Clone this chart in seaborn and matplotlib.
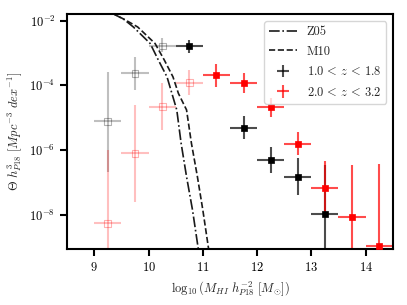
import numpy as np
import pandas as pd
import matplotlib
matplotlib.use("Agg")
import matplotlib.pyplot as plt
import seaborn as sns

sns.set_theme(style="ticks")
plt.rcParams["font.family"] = ["cmr10", "DejaVu Serif"]
plt.rcParams["mathtext.fontset"] = "cm"
plt.rcParams["axes.unicode_minus"] = False
plt.rcParams["axes.formatter.use_mathtext"] = True

# Schechter curves (log10 M, log10 Theta)
z05_x = [9.0, 9.36, 9.55, 9.72, 10.03, 10.18, 10.34, 10.43, 10.52, 10.60, 10.70, 10.81, 10.91, 10.96]
z05_y = [-1.62, -1.80, -1.97, -2.20, -2.71, -3.22, -3.74, -4.25, -4.76, -5.79, -6.82, -7.85, -8.98, -9.5]
m10_x = [9.0, 9.36, 9.57, 9.80, 10.12, 10.29, 10.45, 10.55, 10.70, 10.79, 10.90, 11.00, 11.10, 11.15]
m10_y = [-1.62, -1.80, -1.98, -2.20, -2.71, -3.22, -3.74, -4.25, -4.76, -5.79, -6.82, -7.85, -8.98, -9.5]

# 1.0 < z < 1.8 (log10 values)
lo_x = [9.25, 9.75, 10.25, 10.75, 11.75, 12.25, 12.75, 13.25]
lo_y = [-5.11, -3.63, -2.79, -2.79, -5.31, -6.31, -6.82, -7.97]
lo_up = [-3.58, -3.12, -2.55, -2.60, -4.95, -5.91, -6.25, -6.45]
lo_dn = [-6.67, -4.15, -2.97, -3.00, -5.67, -6.70, -7.38, -12.0]
lo_ok = [False, False, False, True, True, True, True, True]

# 2.0 < z < 3.2
hi_x = [9.25, 9.75, 10.25, 10.75, 11.25, 11.75, 12.25, 12.75, 13.25, 13.75, 14.25]
hi_y = [-8.26, -6.10, -4.66, -3.92, -3.69, -3.94, -4.68, -5.82, -7.16, -8.08, -8.95]
hi_up = [-6.00, -4.61, -3.94, -3.53, -3.33, -3.63, -4.40, -5.43, -6.33, -6.46, -6.43]
hi_dn = [-12.0, -7.59, -5.38, -4.30, -4.05, -4.25, -4.97, -6.15, -7.90, -12.0, -12.0]
hi_ok = [False, False, False, False, True, True, True, True, True, True, True]

bin_half = 0.25

fig = plt.figure(figsize=(4.07, 3.05), dpi=100)
ax = fig.add_axes([0.165, 0.183, 0.8, 0.771])

sns.lineplot(x=z05_x, y=10 ** np.array(z05_y), ax=ax, color="k", lw=1.2,
             linestyle="-.", sort=False, estimator=None, label="Z05")
sns.lineplot(x=m10_x, y=10 ** np.array(m10_y), ax=ax, color="k", lw=1.2,
             linestyle="--", sort=False, estimator=None, label="M10")


def draw(xs, ys, ups, dns, ok, color, label):
    df = pd.DataFrame({"x": xs, "y": 10 ** np.array(ys),
                       "up": 10 ** np.array(ups), "dn": 10 ** np.array(dns), "ok": ok})
    for flag, alpha in [(False, 0.25), (True, 0.7)]:
        d = df[df.ok == flag]
        if d.empty:
            continue
        ax.errorbar(d.x, d.y, xerr=bin_half, yerr=[d.y - d.dn, d.up - d.y],
                    fmt="none", ecolor=color, elinewidth=1.5, alpha=alpha,
                    label=label if flag else None)
        if flag:
            sns.scatterplot(x=d.x, y=d.y, ax=ax, marker="s", s=22, color=color,
                            edgecolor=color, linewidth=0.5, zorder=3)
        else:
            ax.scatter(d.x, d.y, marker="s", s=24, facecolors="none",
                       edgecolors=color, alpha=0.3, linewidths=0.8, zorder=3)


draw(lo_x, lo_y, lo_up, lo_dn, lo_ok, "black", r"$1.0\, <\, z\, <\, 1.8$")
draw(hi_x, hi_y, hi_up, hi_dn, hi_ok, "red", r"$2.0\, <\, z\, <\, 3.2$")

ax.set_yscale("log")
ax.set_xlim(8.5, 14.5)
ax.set_ylim(10 ** -9.06, 10 ** -1.8)
ax.set_yticks([1e-8, 1e-6, 1e-4, 1e-2])
ax.minorticks_off()
ax.set_xticks([9, 10, 11, 12, 13, 14])

for s in ax.spines.values():
    s.set_linewidth(1.5)
    s.set_color("black")
ax.tick_params(width=1.5, length=5, labelsize=9, colors="black")

ax.set_xlabel(r"$\log_{10}(M_{HI}\ h_{P18}^{-2}\ [M_{\odot}])$", fontsize=9)
ax.set_ylabel(r"$\Theta\ h_{P18}^{3}\ [Mpc^{-3}\ dex^{-1}]$", fontsize=9)

ax.legend(loc="upper right", bbox_to_anchor=(0.98, 0.97), borderaxespad=0,
          fontsize=9, frameon=True, fancybox=True, labelspacing=0.6,
          handlelength=2.2, edgecolor="#cccccc", framealpha=0.8)

fig.savefig("out.png", dpi=100)
